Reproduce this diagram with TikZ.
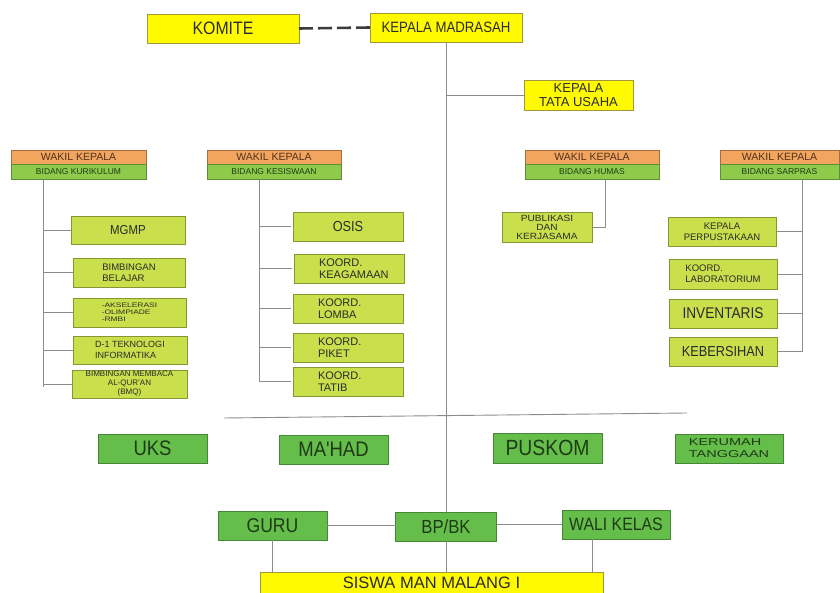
\documentclass[tikz,border=0pt]{standalone}
\usepackage{fontspec}
\setmainfont{Liberation Sans}
\newfontfamily\condfont[FakeStretch=0.88]{Liberation Sans}
\newfontfamily\widefont[FakeStretch=1.45]{Liberation Sans}
\newfontfamily\semifont[FakeStretch=1.12]{Liberation Sans}
\newfontfamily\akfont[FakeStretch=1.3]{Liberation Sans}
\usetikzlibrary{backgrounds}
\definecolor{ylw}{RGB}{255,250,0}
\definecolor{ylwd}{RGB}{160,150,60}
\definecolor{orng}{RGB}{242,165,94}
\definecolor{orngd}{RGB}{170,110,60}
\definecolor{wgrn}{RGB}{143,203,75}
\definecolor{wgrnd}{RGB}{95,140,55}
\definecolor{sgrn}{RGB}{201,223,75}
\definecolor{sgrnd}{RGB}{135,150,50}
\definecolor{bgrn}{RGB}{102,190,74}
\definecolor{bgrnd}{RGB}{70,135,55}
\definecolor{txt}{RGB}{43,43,43}
\definecolor{gtxt}{RGB}{30,58,24}
\definecolor{wtxt}{RGB}{80,50,30}
\definecolor{lgray}{RGB}{140,140,140}
\definecolor{dgray}{RGB}{60,60,60}
\newcommand\myfs[2]{\fontsize{#1}{#2}\selectfont}
\begin{document}
\begin{tikzpicture}[x=1pt,y=-1pt,
  box/.style={draw, line width=0.9pt, inner sep=0pt, outer sep=0pt, text=txt},
  sz/.style 2 args={minimum width=#1pt, minimum height=#2pt},
  ybox/.style={box, fill=ylw, draw=ylwd},
  sbox/.style={box, fill=sgrn, draw=sgrnd},
  bbox/.style={box, fill=bgrn, draw=bgrnd, text=gtxt},
  wtop/.style={box, fill=orng, draw=orngd, text=wtxt, font=\myfs{10.5}{10.5}},
  wbot/.style={box, fill=wgrn, draw=wgrnd, text=gtxt, font=\myfs{8.5}{8.5}},
  conn/.style={draw=lgray, line width=0.9pt},
  koord/.style={text width=60pt, align=left, font=\myfs{11}{12.5}}
]
\useasboundingbox (0,0) rectangle (840,593);
\clip (0,0) rectangle (840,593);
\fill[white] (0,0) rectangle (840,593);

% top
\node[ybox, sz={152}{29}, font={\condfont\myfs{18}{18}}] (komite) at (223,28.5) {KOMITE};
\node[ybox, sz={152}{29}, font={\condfont\myfs{15}{15}}] (km) at (446,27.5) {KEPALA MADRASAH};
\node[ybox, sz={109}{30}, align=center, font=\myfs{13}{14}] (ktu) at (578.5,95) {KEPALA\\TATA USAHA};

% wakil
\node[wtop, sz={135}{14.5}] (w1a) at (78.5,157.25) {WAKIL KEPALA};
\node[wbot, sz={135}{14.5}] (w1b) at (78.5,171.75) {BIDANG KURIKULUM};
\node[wtop, sz={134}{14.5}] (w2a) at (274,157.25) {WAKIL KEPALA};
\node[wbot, sz={134}{14.5}] (w2b) at (274,171.75) {BIDANG KESISWAAN};
\node[wtop, sz={134}{14.5}] (w3a) at (592,157.25) {WAKIL KEPALA};
\node[wbot, sz={134}{14.5}] (w3b) at (592,171.75) {BIDANG HUMAS};
\node[wtop, sz={119}{14.5}] (w4a) at (779.5,157.25) {WAKIL KEPALA};
\node[wbot, sz={119}{14.5}] (w4b) at (779.5,171.75) {BIDANG SARPRAS};

% kurikulum
\node[sbox, sz={114}{28}, font={\condfont\myfs{13}{13}}] (mgmp) at (128,230) {MGMP};
\node[sbox, sz={112}{29}, align=left, font=\myfs{9.5}{11}] (bb) at (129,272.5) {BIMBINGAN\\BELAJAR};
\node[sbox, sz={113}{29}, align=left, font={\akfont\myfs{6.5}{7}}] (aks) at (129.5,312.5) {-AKSELERASI\\-OLIMPIADE\\-RMBI};
\node[sbox, sz={114}{28}, align=left, font=\myfs{9}{10.5}] (d1) at (130,350) {D-1 TEKNOLOGI\\INFORMATIKA};
\node[sbox, sz={115}{28}, align=center, font=\myfs{8}{9}] (bmq) at (129.5,384) {BIMBINGAN MEMBACA\\AL-QUR'AN\\(BMQ)};

% kesiswaan
\node[sbox, sz={110}{29}, font={\condfont\myfs{14.5}{14.5}}] (osis) at (348,226.5) {OSIS};
\node[sbox, sz={110}{29}, koord] (keag) at (349,268.5) {KOORD.\\KEAGAMAAN};
\node[sbox, sz={110}{29}, koord] (lomba) at (348,308.5) {KOORD.\\LOMBA};
\node[sbox, sz={110}{29}, koord] (piket) at (348,347.5) {KOORD.\\PIKET};
\node[sbox, sz={110}{29}, koord] (tatib) at (348,381.5) {KOORD.\\TATIB};

% humas
\node[sbox, sz={90}{30}, align=center, font={\semifont\myfs{9}{9}}] (publ) at (547,227) {PUBLIKASI\\DAN\\KERJASAMA};

% sarpras
\node[sbox, sz={108}{29}, align=center, font=\myfs{9.5}{11}] (perp) at (722,231.5) {KEPALA\\PERPUSTAKAAN};
\node[sbox, sz={108}{30}, align=left, font=\myfs{9.5}{11}] (lab) at (723,274) {KOORD.\\LABORATORIUM};
\node[sbox, sz={108}{29}, font={\condfont\myfs{15.5}{15.5}}] (inv) at (723,313.5) {INVENTARIS};
\node[sbox, sz={108}{29}, font={\condfont\myfs{14.5}{14.5}}] (keb) at (723,351.5) {KEBERSIHAN};

% bottom units
\node[bbox, sz={109}{29}, font={\condfont\myfs{21}{21}}] (uks) at (152.5,448.5) {UKS};
\node[bbox, sz={109}{29}, font={\condfont\myfs{21}{21}}] (mahad) at (333.5,449.5) {MA'HAD};
\node[bbox, sz={109}{30}, font={\condfont\myfs{22}{22}}] (puskom) at (547.5,448) {PUSKOM};
\node[bbox, sz={108}{29}, align=left, font={\widefont\myfs{10}{12}}] (krt) at (729,448.5) {KERUMAH\\TANGGAAN};

\node[bbox, sz={109}{29}, font={\condfont\myfs{20}{20}}] (guru) at (272.5,525.5) {GURU};
\node[bbox, sz={101}{29}, font={\condfont\myfs{19}{19}}] (bpbk) at (446,526.5) {BP/BK};
\node[bbox, sz={108}{29}, font={\condfont\myfs{18}{18}}] (wali) at (616,524.5) {WALI KELAS};
\node[ybox, sz={343}{34}, anchor=north] (siswa) at (431.5,572) {};
\node[text=txt, font=\myfs{16.5}{16.5}, anchor=base, inner sep=0pt] (siswat) at (431.5,588) {SISWA MAN MALANG I};

% connectors
\begin{pgfonlayer}{background}
\draw[conn] (w1a.south west) -- (w4a.south east);
\end{pgfonlayer}
\draw[dgray, line width=2.6pt, dash pattern=on 14pt off 5pt] (komite.east) -- (km.west);
\draw[conn] (km.south) -- (bpbk.north);
\draw[conn] (ktu.west) -- (ktu.west -| km.south);
\coordinate (hline1) at (224,418);
\coordinate (hline2) at (687,413);
\draw[conn] (hline1) -- (hline2);

% kurikulum tree
\coordinate (k1top) at (43,179);
\coordinate (k1bot) at (43,387);
\draw[conn] (k1top) -- (k1bot);
\foreach \n in {mgmp,bb,aks,d1,bmq} \draw[conn] (\n.west) -- (\n.west -| k1top);

% kesiswaan tree
\coordinate (k2top) at (259,179);
\coordinate (k2bot) at (259,382);
\draw[conn] (k2top) -- (k2bot);
\foreach \n in {osis,keag,lomba,piket,tatib} \draw[conn] ([xshift=-2pt]\n.west) -- (\n.west -| k2top);

% humas
\coordinate (k3top) at (605,179);
\draw[conn] (k3top) |- (publ.east);

% sarpras
\coordinate (k4top) at (802,179);
\coordinate (k4bot) at (802,352);
\draw[conn] (k4top) -- (k4bot);
\foreach \n in {perp,lab,inv,keb} \draw[conn] (\n.east) -- (\n.east -| k4top);

% bottom
\draw[conn] (guru.east) -- (guru.east -| bpbk.west);
\draw[conn] (wali.west -| bpbk.east) -- (wali.west);
\draw[conn] (guru.south) -- (guru.south |- siswa.north);
\draw[conn] (bpbk.south) -- (siswa.north -| bpbk.south);
\coordinate (wl) at ([xshift=30pt]wali.south west);
\draw[conn] (wl) -- (wl |- siswa.north);
\end{tikzpicture}
\end{document}
